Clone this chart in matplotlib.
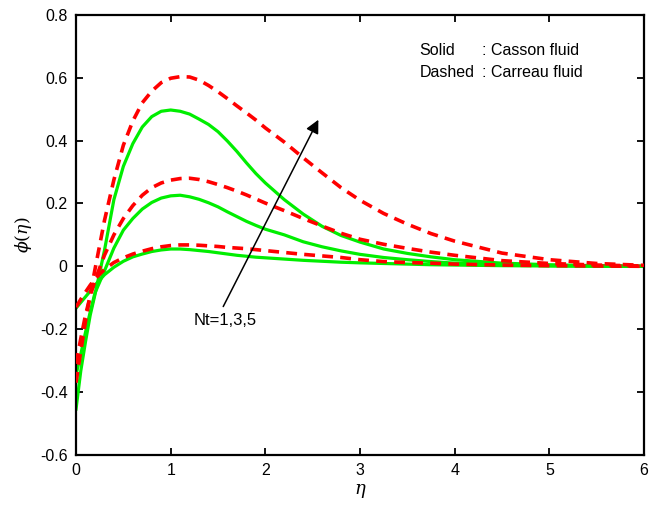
import numpy as np
import matplotlib
matplotlib.use("Agg")
import matplotlib.pyplot as plt

plt.rcParams['font.family'] = ['Liberation Sans', 'DejaVu Sans']
plt.rcParams['mathtext.fontset'] = 'dejavuserif'

# eta grid and curves
eta = [0, 0.05, 0.1, 0.15, 0.2, 0.3, 0.4, 0.5, 0.6, 0.7, 0.8, 0.9, 1.0, 1.1, 1.2,
       1.3, 1.4, 1.5, 1.6, 1.7, 1.8, 1.9, 2.0, 2.2, 2.4, 2.6, 2.8, 3.0, 3.25, 3.5,
       3.75, 4.0, 4.5, 5.0, 5.5, 6.0]

# Casson fluid (solid), Nt = 1, 3, 5
casson_nt1 = [-0.133, -0.115, -0.097, -0.079, -0.06, -0.027, -0.003, 0.016, 0.03, 0.039,
              0.047, 0.052, 0.055, 0.055, 0.053, 0.05, 0.047, 0.043, 0.039, 0.035,
              0.032, 0.029, 0.027, 0.023, 0.019, 0.016, 0.013, 0.011, 0.009, 0.007,
              0.005, 0.004, 0.002, 0.001, 0.0, 0.0]
casson_nt3 = [-0.345, -0.28, -0.21, -0.145, -0.085, -0.015, 0.058, 0.115, 0.152, 0.182,
              0.203, 0.217, 0.224, 0.226, 0.221, 0.213, 0.202, 0.189, 0.173, 0.158,
              0.143, 0.13, 0.118, 0.1, 0.078, 0.062, 0.049, 0.038, 0.028, 0.021,
              0.015, 0.01, 0.005, 0.002, 0.001, 0.0]
casson_nt5 = [-0.454, -0.333, -0.24, -0.155, -0.09, 0.05, 0.212, 0.318, 0.39, 0.443,
              0.476, 0.493, 0.497, 0.493, 0.484, 0.468, 0.451, 0.428, 0.398, 0.365,
              0.329, 0.295, 0.265, 0.212, 0.166, 0.127, 0.098, 0.077, 0.055, 0.041,
              0.03, 0.021, 0.01, 0.005, 0.002, 0.0]

# Carreau fluid (dashed), Nt = 1, 3, 5
carreau_nt1 = [-0.13, -0.105, -0.082, -0.06, -0.04, -0.01, 0.012, 0.027, 0.039, 0.048,
               0.056, 0.062, 0.066, 0.068, 0.068, 0.067, 0.065, 0.063, 0.06, 0.058,
               0.056, 0.053, 0.05, 0.044, 0.038, 0.033, 0.028, 0.021, 0.015, 0.012,
               0.01, 0.007, 0.004, 0.002, 0.001, 0.0]
carreau_nt3 = [-0.31, -0.23, -0.155, -0.095, -0.045, 0.035, 0.1, 0.152, 0.193, 0.226,
               0.25, 0.265, 0.274, 0.279, 0.28, 0.276, 0.269, 0.26, 0.25, 0.239,
               0.227, 0.214, 0.201, 0.177, 0.152, 0.128, 0.105, 0.086, 0.07, 0.057,
               0.045, 0.035, 0.018, 0.009, 0.004, 0.001]
carreau_nt5 = [-0.37, -0.27, -0.175, -0.09, -0.01, 0.145, 0.275, 0.385, 0.462, 0.52,
               0.557, 0.584, 0.598, 0.603, 0.602, 0.592, 0.575, 0.555, 0.533, 0.51,
               0.488, 0.465, 0.44, 0.395, 0.345, 0.297, 0.25, 0.21, 0.168, 0.134,
               0.104, 0.08, 0.042, 0.021, 0.009, 0.003]

solid = [casson_nt1, casson_nt3, casson_nt5]
dashed = [carreau_nt1, carreau_nt3, carreau_nt5]

fig = plt.figure(figsize=(6.56, 5.11), dpi=100)
ax = fig.add_axes([0.1159, 0.1096, 0.8658, 0.8616])

for y in solid:
    ax.plot(eta, y, color='#00ee00', lw=2.3, solid_joinstyle='round', zorder=2)
for y in dashed:
    ax.plot(eta, y, color='#ff0000', lw=2.6, dashes=(3, 2), zorder=3)

ax.set_xlim(0, 6)
ax.set_ylim(-0.6, 0.8)
ax.set_xticks(np.arange(0, 7, 1))
ax.set_yticks(np.arange(-0.6, 0.81, 0.2))
ax.set_yticklabels(['-0.6', '-0.4', '-0.2', '0', '0.2', '0.4', '0.6', '0.8'])
ax.tick_params(direction='in', length=5, width=1.3, top=True, right=True,
               labelsize=11.5, pad=6)
for s in ax.spines.values():
    s.set_linewidth(1.6)

ax.set_xlabel(r'$\eta$', fontsize=13, labelpad=3)
ax.set_ylabel(r'$\phi(\eta)$', fontsize=12.5, labelpad=4)

# arrow and label
ax.annotate('', xy=(2.56, 0.466), xytext=(1.555, -0.128),
            arrowprops=dict(arrowstyle='-|>', color='black', lw=1.1,
                            mutation_scale=20, shrinkA=0, shrinkB=0))
ax.text(1.58, -0.172, 'Nt=1,3,5', fontsize=12, ha='center', va='center')

# line style key
ax.text(3.63, 0.686, 'Solid', fontsize=11.5, va='center')
ax.text(4.29, 0.686, ': Casson fluid', fontsize=11.5, va='center')
ax.text(3.63, 0.617, 'Dashed', fontsize=11.5, va='center')
ax.text(4.29, 0.617, ': Carreau fluid', fontsize=11.5, va='center')

fig.savefig('out.png', dpi=100)
